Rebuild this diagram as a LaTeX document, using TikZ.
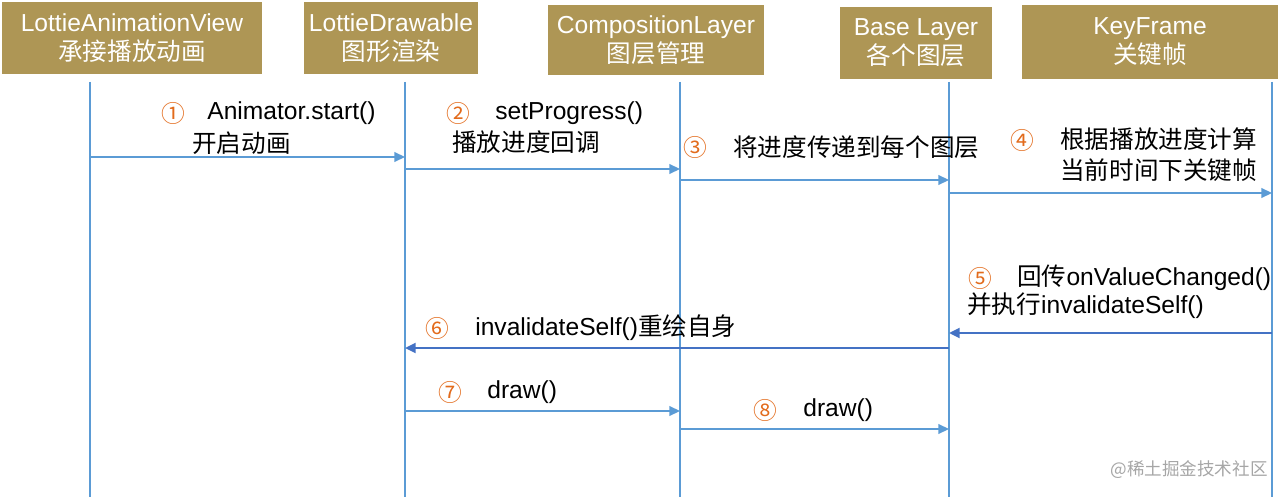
\documentclass[tikz,border=0pt]{standalone}
\usepackage{fontspec}
\setmainfont{Liberation Sans}
\newfontfamily\cjk{Noto Sans CJK SC}
\usetikzlibrary{arrows.meta}

\definecolor{headgold}{HTML}{AE9655}
\definecolor{lineblue}{HTML}{5B9BD5}
\definecolor{backblue}{HTML}{4472C4}
\definecolor{steporange}{HTML}{E26B1C}

\tikzset{
  header/.style={fill=headgold,text=white,align=center,inner sep=0pt,
    font=\fontsize{14}{16.5}\selectfont},
  lifeline/.style={draw=lineblue,line width=0.7pt},
  call/.style={draw=lineblue,line width=0.9pt,-{Triangle[length=6pt,width=5.5pt]}},
  reply/.style={draw=backblue,line width=1.6pt,-{Triangle[length=6pt,width=5.5pt]}},
  stepno/.style={text=steporange,inner sep=0pt,font=\cjk\fontsize{13.5}{14}\selectfont},
  msgtext/.style={anchor=west,inner sep=0pt,font=\fontsize{14}{16}\selectfont},
}

\begin{document}
\begin{tikzpicture}[x=0.02cm,y=-0.02cm]
  \useasboundingbox (0,0) rectangle (1286,500);

  % participants
  \node[header,minimum width=5.2cm,minimum height=1.44cm] (viewhead) at (132,38)
    {LottieAnimationView\\{\cjk 承接播放动画}};
  \node[header,minimum width=3.48cm,minimum height=1.44cm] (drawhead) at (391,38)
    {LottieDrawable\\{\cjk 图形渲染}};
  \node[header,minimum width=4.34cm,minimum height=1.4cm] (comphead) at (656,40)
    {CompositionLayer\\{\cjk 图层管理}};
  \node[header,minimum width=3.04cm,minimum height=1.46cm] (basehead) at (916,43)
    {Base Layer\\{\cjk 各个图层}};
  \node[header,minimum width=5.14cm,minimum height=1.5cm] (keyhead) at (1150,42)
    {KeyFrame\\{\cjk 关键帧}};

  % lifelines
  \coordinate (viewtop) at (90,82);   \coordinate (viewbot) at (90,497);
  \coordinate (drawtop) at (405,82);  \coordinate (drawbot) at (405,497);
  \coordinate (comptop) at (680,82);  \coordinate (compbot) at (680,497);
  \coordinate (basetop) at (949,82);  \coordinate (basebot) at (949,497);
  \coordinate (keytop) at (1272,82);  \coordinate (keybot) at (1272,497);

  \draw[lifeline] (viewtop) -- (viewbot);
  \draw[lifeline] (drawtop) -- (drawbot);
  \draw[lifeline] (comptop) -- (compbot);
  \draw[lifeline] (basetop) -- (basebot);
  \draw[lifeline] (keytop) -- (keybot);

  % messages
  \draw[call] (viewtop |- 0,157) -- (drawtop |- 0,157);
  \node[stepno] (no1) at (173,113) {①};
  \node[msgtext] (start) at (207,113) {Animator.start()};
  \node[msgtext] (startcn) at (192,143) {\cjk 开启动画};

  \draw[call] (drawtop |- 0,169) -- (comptop |- 0,169);
  \node[stepno] (no2) at (458,113) {②};
  \node[msgtext] (progress) at (495,113) {setProgress()};
  \node[msgtext] (progresscn) at (452,142) {\cjk 播放进度回调};

  \draw[call] (comptop |- 0,180) -- (basetop |- 0,180);
  \node[stepno] (no3) at (695,147) {③};
  \node[msgtext] (pass) at (733,147) {\cjk 将进度传递到每个图层};

  \draw[call] (basetop |- 0,193) -- (keytop |- 0,193);
  \node[stepno] (no4) at (1022,140) {④};
  \node[msgtext] (calc) at (1060,139) {\cjk 根据播放进度计算};
  \node[msgtext] (calccn) at (1060,170) {\cjk 当前时间下关键帧};

  \draw[reply] (keytop |- 0,333) -- (basetop |- 0,333);
  \node[stepno] (no5) at (980,278) {⑤};
  \node[msgtext] (changed) at (1017,278) {{\cjk 回传}onValueChanged()};
  \node[msgtext] (invalid) at (967,306) {{\cjk 并执行}invalidateSelf()};

  \draw[reply] (basetop |- 0,348) -- (drawtop |- 0,348);
  \node[stepno] (no6) at (437,328) {⑥};
  \node[msgtext] (redraw) at (475,328) {invalidateSelf(){\cjk 重绘自身}};

  \draw[call] (drawtop |- 0,411) -- (comptop |- 0,411);
  \node[stepno] (no7) at (450,392) {⑦};
  \node[msgtext] (draw1) at (487,392) {draw()};

  \draw[call] (comptop |- 0,429) -- (basetop |- 0,429);
  \node[stepno] (no8) at (765,410) {⑧};
  \node[msgtext] (draw2) at (803,410) {draw()};

  \node[anchor=east,inner sep=0pt,text=gray!70,font=\cjk\fontsize{10}{10}\selectfont]
    (mark) at (1268,470) {@稀土掘金技术社区};
\end{tikzpicture}
\end{document}
